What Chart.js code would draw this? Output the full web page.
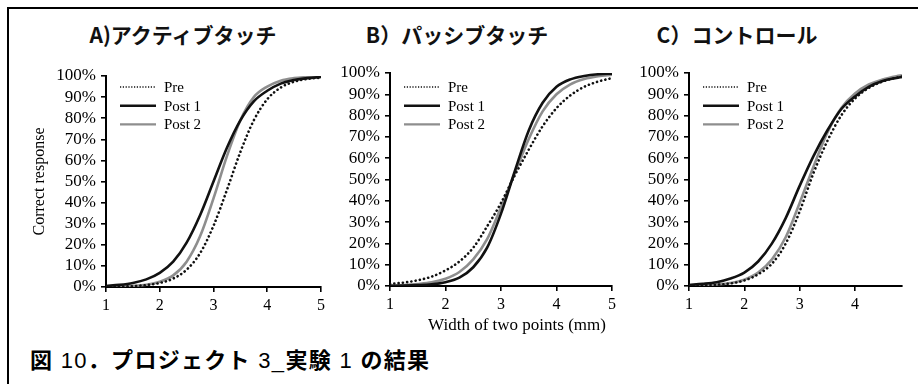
<!DOCTYPE html>
<html>
<head>
<meta charset="utf-8">
<script src="https://cdn.jsdelivr.net/npm/chart.js@4.4.1/dist/chart.umd.min.js"></script>
<style>
  html, body { margin: 0; padding: 0; background: #fff; }
  body { width: 918px; height: 384px; position: relative; overflow: hidden; }
  #frame { position: absolute; left: 7px; top: 7px; width: 1000px; height: 1000px;
           border-left: 2px solid #000; border-top: 2px solid #000; }
  canvas { position: absolute; }
  .ptitle { position: absolute; top: 22px; height: 24px; line-height: 24px;
            font-family: "Noto Sans CJK JP", sans-serif; font-weight: 700; font-size: 21px;
            color: #111; white-space: nowrap; transform: translateX(-50%); }
  #xtitle { position: absolute; left: 517px; top: 315px; transform: translateX(-50%);
            font-family: "Liberation Serif", serif; font-size: 17px; line-height: 20px;
            color: #000; white-space: nowrap; }
  #caption { position: absolute; left: 30px; top: 343px; height: 30px; line-height: 30px;
             font-family: "Noto Sans CJK JP", sans-serif; font-weight: 700; font-size: 22px;
             letter-spacing: 1.3px; color: #000; white-space: nowrap; }
  #caption .n { font-family: "Liberation Sans", Arial, sans-serif; font-weight: 400; }
</style>
</head>
<body>
<div id="frame"></div>

<div class="ptitle" style="left:183px">A)アクティブタッチ</div>
<div class="ptitle" style="left:457px">B）パッシブタッチ</div>
<div class="ptitle" style="left:737px">C）コントロール</div>

<canvas id="cA" width="310" height="262" style="left:20px;top:57px"></canvas>
<canvas id="cB" width="282" height="261" style="left:340px;top:57px"></canvas>
<canvas id="cC" width="273" height="261" style="left:639px;top:57px"></canvas>

<div id="xtitle">Width of two points (mm)</div>
<div id="caption">図<span class="n"> 10</span>．プロジェクト<span class="n"> 3_</span>実験<span class="n"> 1 </span>の結果</div>

<script>
// Two-point discrimination: proportion of correct responses (%) against the
// distance between the two points (mm), for each session.
const seriesNames = ['Pre', 'Post 1', 'Post 2'];

// A) active touch
const widthsA = [1, 1.25, 1.5, 1.75, 2, 2.25, 2.5, 2.75, 3, 3.25, 3.5, 3.75, 4, 4.25, 4.5, 4.75, 5];
const preA   = [0.2, 0.2, 0.4, 0.9, 1.9, 4.0, 8.2, 16, 29, 46, 64, 79, 89, 94.5, 97.3, 98.6, 99.2];
const post1A = [0.5, 1.0, 1.9, 3.6, 6.7, 12, 21, 34, 50, 66, 79, 88, 93, 96.4, 98.1, 99.0, 99.5];
const post2A = [0.1, 0.2, 0.5, 1.1, 2.5, 5.5, 12, 24, 42, 62, 79, 90, 95, 97.8, 99.0, 99.5, 99.8];

// B) passive touch
const widthsB = [1, 1.25, 1.5, 1.75, 2, 2.25, 2.5, 2.75, 3, 3.25, 3.5, 3.75, 4, 4.25, 4.5, 4.75, 5];
const preB   = [1.0, 1.6, 2.7, 4.4, 7.3, 11.5, 18, 28, 39, 52, 64, 75, 83.5, 89.5, 93.5, 96, 97.6];
const post1B = [0.1, 0.2, 0.4, 0.8, 1.8, 3.9, 8.8, 18, 34, 54, 73, 86, 93.5, 97, 98.6, 99.4, 99.7];
const post2B = [0.2, 0.4, 0.9, 1.7, 3.4, 6.6, 12.5, 22, 37, 53, 69, 82, 90, 94.7, 97.2, 98.5, 99.2];

// C) control
const widthsC = [1, 1.25, 1.5, 1.75, 2, 2.25, 2.5, 2.75, 3, 3.25, 3.5, 3.75, 4, 4.25, 4.5, 4.75, 4.85];
const preC   = [0.1, 0.3, 0.6, 1.2, 2.6, 5.5, 10.5, 20, 35, 53, 68, 80, 88, 93, 96, 97.8, 98.3];
const post1C = [0.5, 1.0, 1.8, 3.5, 6.3, 11.5, 20, 32, 47, 61, 73, 83, 89, 93.5, 96.2, 97.7, 98.2];
const post2C = [0.15, 0.3, 0.7, 1.4, 3.0, 6.3, 12.5, 23, 39, 56, 72, 83.5, 90.4, 94.6, 97, 98.5, 98.9];

const yTickStep = 10;
const xTickStep = 1;

// line styles per session (plot line, then legend sample)
const styles = [
  { color: '#111', width: 2.6, dash: [0.1, 4.2], cap: 'round', keyWidth: 1.6, keyDash: [1.2, 1.6], keyCap: 'butt' },
  { color: '#111', width: 2.6, dash: [], cap: 'butt', keyWidth: 2.6, keyDash: [], keyCap: 'butt' },
  { color: '#8e8e8e', width: 2.6, dash: [], cap: 'butt', keyWidth: 2.4, keyDash: [], keyCap: 'butt' }
];

const serif = '"Liberation Serif", "Times New Roman", serif';

// legend drawn inside the plot area, top-left
const keyPlugin = {
  id: 'insideKey',
  afterDatasetsDraw(chart) {
    const ctx = chart.ctx;
    const x0 = chart.chartArea.left + 14;
    const len = 36;
    chart.data.datasets.forEach((ds, i) => {
      const st = styles[i];
      const y = 30 + i * 18.7;
      ctx.save();
      ctx.strokeStyle = st.color;
      ctx.lineWidth = st.keyWidth;
      ctx.lineCap = st.keyCap;
      ctx.setLineDash(st.keyDash);
      ctx.beginPath();
      ctx.moveTo(x0, y);
      ctx.lineTo(x0 + len, y);
      ctx.stroke();
      ctx.setLineDash([]);
      ctx.fillStyle = '#000';
      ctx.font = '15px ' + serif;
      ctx.textBaseline = 'middle';
      ctx.fillText(ds.label, x0 + len + 8, y + 1);
      ctx.restore();
    });
  }
};

function makePanel(id, widths, series, opt) {
  const datasets = series.map((vals, i) => ({
    label: seriesNames[i],
    data: widths.map((w, k) => ({ x: w, y: vals[k] })),
    borderColor: styles[i].color,
    borderWidth: styles[i].width,
    borderDash: styles[i].dash,
    borderCapStyle: styles[i].cap,
    pointRadius: 0,
    fill: false,
    cubicInterpolationMode: 'monotone',
    order: i
  }));

  new Chart(document.getElementById(id), {
    type: 'line',
    data: { datasets },
    plugins: [keyPlugin],
    options: {
      responsive: false,
      animation: false,
      devicePixelRatio: 1,
      layout: { padding: { left: 0, top: opt.padTop, right: opt.padRight, bottom: 0 } },
      plugins: { legend: { display: false }, tooltip: { enabled: false } },
      scales: {
        x: {
          type: 'linear',
          min: 1,
          max: opt.xMax,
          afterFit: s => { s.height = 32; },
          grid: { display: true, drawOnChartArea: false, drawTicks: true, tickLength: 5, color: '#000', lineWidth: 1.6 },
          border: { display: true, color: '#000', width: 2 },
          ticks: { stepSize: xTickStep, includeBounds: false, autoSkip: false, maxRotation: 0, padding: 4,
                   color: '#000', font: { family: serif, size: 16 } }
        },
        y: {
          min: 0,
          max: 100,
          afterFit: s => { s.width = opt.yWidth; },
          grid: { display: true, drawOnChartArea: false, drawTicks: true, tickLength: 5, color: '#000', lineWidth: 1.6 },
          border: { display: true, color: '#000', width: 2 },
          ticks: { stepSize: yTickStep, autoSkip: false, padding: 5, color: '#000',
                   font: { family: serif, size: 17 }, callback: v => v + '%' },
          title: opt.yTitle ? { display: true, text: opt.yTitle, color: '#000',
                                font: { family: serif, size: 16 }, padding: { top: 10, bottom: 0 } }
                            : { display: false }
        }
      }
    }
  });
}

makePanel('cA', widthsA, [preA, post1A, post2A], { padTop: 19, padRight: 9, xMax: 5, yWidth: 86, yTitle: 'Correct response' });
makePanel('cB', widthsB, [preB, post1B, post2B], { padTop: 16, padRight: 10, xMax: 5, yWidth: 50 });
makePanel('cC', widthsC, [preC, post1C, post2C], { padTop: 16, padRight: 10, xMax: 4.85, yWidth: 50 });
</script>
</body>
</html>
